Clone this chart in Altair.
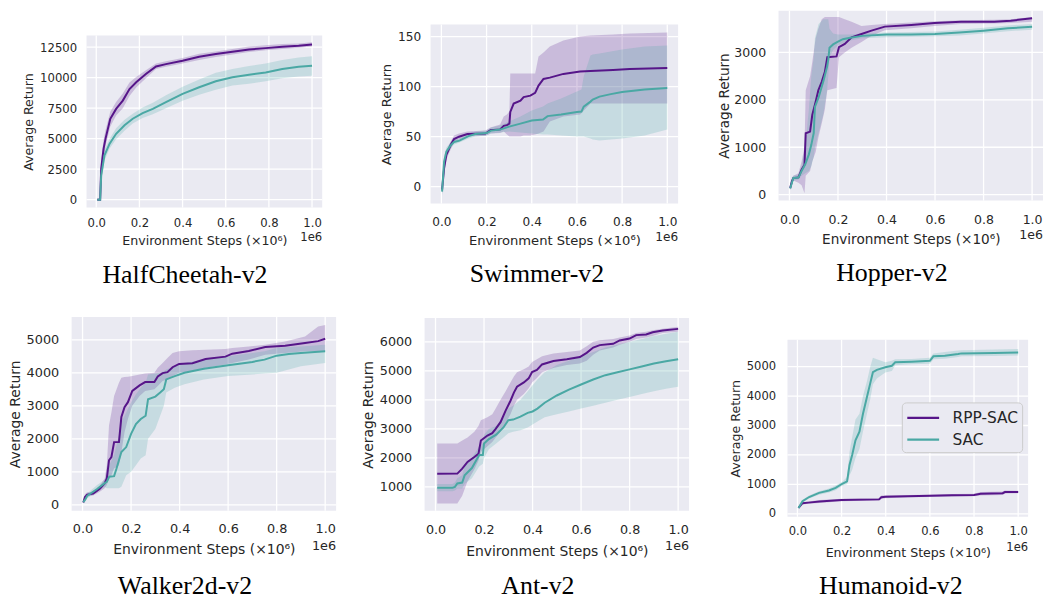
import altair as alt
import pandas as pd

PURPLE = "#561589"
TEAL = "#4AA8A4"
BG = "#EAEAF2"
TXT = "#262626"
SANS = "DejaVu Sans"
SERIF = "Liberation Serif"
SERIES = ["RPP-SAC", "SAC"]
XTICKS = [0.0, 0.2, 0.4, 0.6, 0.8, 1.0]
XTITLE = "Environment Steps (×10⁶)"
YTITLE = "Average Return"

# ---------------- HalfCheetah-v2 ----------------
hc_rpp_x = [0.005, 0.018, 0.023, 0.034, 0.043, 0.065, 0.092, 0.123, 0.154, 0.185, 0.23, 0.277, 0.323, 0.40, 0.477, 0.554, 0.631, 0.708, 0.785, 0.862, 0.938, 1.0]
hc_rpp_y = [0, 0, 2550, 4180, 5000, 6630, 7440, 8120, 9070, 9620, 10300, 10920, 11110, 11380, 11710, 11930, 12120, 12310, 12420, 12530, 12610, 12720]
hc_rpp_lo = [-100, -100, 1800, 3500, 4400, 6000, 6900, 7500, 8500, 9200, 9950, 10700, 10900, 11150, 11450, 11700, 11900, 12100, 12250, 12350, 12450, 12550]
hc_rpp_hi = [100, 100, 3300, 4900, 5700, 7200, 8000, 8700, 9600, 10050, 10600, 11150, 11350, 11600, 11950, 12150, 12350, 12550, 12650, 12750, 12800, 12900]
hc_sac_x = [0.005, 0.018, 0.023, 0.038, 0.062, 0.092, 0.131, 0.169, 0.215, 0.262, 0.323, 0.40, 0.477, 0.554, 0.631, 0.708, 0.785, 0.862, 0.938, 1.0]
hc_sac_y = [0, 0, 2000, 3640, 4590, 5400, 6090, 6630, 7090, 7440, 7990, 8670, 9210, 9700, 10030, 10240, 10430, 10700, 10900, 10980]
hc_sac_lo = [-100, -100, 1500, 3200, 4200, 4950, 5650, 6250, 6700, 7000, 7500, 8100, 8600, 9000, 9350, 9500, 9700, 9950, 10100, 10150]
hc_sac_hi = [100, 100, 2500, 4100, 5000, 5850, 6550, 7050, 7550, 7950, 8550, 9250, 9850, 10400, 10700, 10950, 11150, 11450, 11650, 11750]

# ---------------- Swimmer-v2 ----------------
sw_rpp_x = [0.003, 0.012, 0.022, 0.041, 0.056, 0.078, 0.115, 0.195, 0.217, 0.26, 0.276, 0.29, 0.301, 0.305, 0.32, 0.35, 0.364, 0.394, 0.415, 0.43, 0.452, 0.48, 0.54, 0.614, 0.66, 0.76, 0.834, 1.0]
sw_rpp_y = [-3, 18.5, 31.7, 41.6, 47.6, 49.9, 52.5, 53, 56.5, 57.2, 60.8, 61.5, 63, 74.7, 83, 86, 89.5, 91, 93.8, 101, 107.7, 109, 112.7, 115, 115.5, 116.6, 117.6, 118.6]
sw_rpp_lo = [-8, 12, 27, 37, 44, 47, 50, 50.5, 53, 53.5, 55, 52, 50, 50, 50, 50, 51, 51, 52, 53, 55, 65, 70, 72, 83, 83, 83, 83]
sw_rpp_hi = [2, 25, 36, 45, 51, 53, 55, 56, 59, 62, 70, 72, 75, 113, 113, 113, 113, 113, 113, 130, 134, 140, 146, 150, 151, 152, 153, 154]
sw_sac_x = [0.003, 0.012, 0.022, 0.04, 0.056, 0.08, 0.12, 0.15, 0.2, 0.22, 0.26, 0.3, 0.35, 0.4, 0.45, 0.47, 0.53, 0.6, 0.62, 0.63, 0.66, 0.67, 0.70, 0.75, 0.8, 0.9, 1.0]
sw_sac_y = [-5, 25, 35, 41, 44.6, 46, 50.5, 52.5, 53.5, 56, 57, 60, 63, 66, 67, 70.5, 72, 74.5, 75, 80, 85, 87, 90, 92.5, 94.5, 97, 98.6]
sw_sac_lo = [-10, 20, 31, 38, 42, 44, 48, 50, 51, 53, 54, 55, 54, 53, 52, 52, 51, 50, 50, 50, 48, 47, 46, 47, 48, 51, 57]
sw_sac_hi = [0, 30, 39, 44, 47, 48, 53, 55, 56, 59, 61, 65, 70, 76, 80, 83, 88, 95, 97, 110, 131, 132, 133, 135, 137, 140, 141]

# ---------------- Hopper-v2 ----------------
hp_rpp_x = [0.003, 0.01, 0.016, 0.037, 0.05, 0.062, 0.067, 0.085, 0.094, 0.108, 0.119, 0.133, 0.146, 0.156, 0.194, 0.204, 0.228, 0.256, 0.297, 0.338, 0.393, 0.502, 0.598, 0.707, 0.844, 0.912, 1.0]
hp_rpp_y = [140, 280, 350, 364, 524, 630, 1294, 1330, 1680, 1960, 2200, 2380, 2590, 2900, 2916, 3110, 3180, 3320, 3390, 3460, 3545, 3580, 3620, 3650, 3650, 3670, 3720]
hp_rpp_lo = [100, 200, 300, 250, 200, 30, 400, 500, 700, 900, 1200, 1500, 1800, 2200, 2250, 2900, 3000, 3100, 3220, 3350, 3470, 3510, 3560, 3600, 3610, 3620, 3650]
hp_rpp_hi = [180, 360, 400, 450, 700, 1000, 2200, 2500, 2800, 3300, 3500, 3700, 3750, 3750, 3750, 3750, 3700, 3650, 3560, 3580, 3600, 3630, 3660, 3680, 3690, 3700, 3750]
hp_sac_x = [0.003, 0.01, 0.016, 0.037, 0.05, 0.065, 0.08, 0.09, 0.1, 0.105, 0.12, 0.14, 0.155, 0.16, 0.165, 0.18, 0.2, 0.22, 0.25, 0.3, 0.4, 0.5, 0.6, 0.7, 0.8, 0.9, 1.0]
hp_sac_y = [130, 250, 350, 360, 500, 640, 850, 1050, 1300, 1850, 2050, 2400, 2700, 2850, 3100, 3170, 3230, 3280, 3310, 3350, 3380, 3380, 3390, 3420, 3460, 3510, 3540]
hp_sac_lo = [100, 200, 300, 320, 400, 450, 500, 600, 800, 1000, 1300, 1700, 2200, 2500, 2900, 3050, 3150, 3200, 3250, 3300, 3320, 3330, 3340, 3360, 3400, 3450, 3480]
hp_sac_hi = [160, 300, 400, 420, 600, 1000, 1800, 2500, 2900, 3300, 3600, 3700, 3700, 3700, 3500, 3400, 3380, 3380, 3380, 3400, 3420, 3430, 3440, 3480, 3520, 3570, 3600]

# ---------------- Walker2d-v2 ----------------
wk_rpp_x = [0.003, 0.01, 0.019, 0.044, 0.071, 0.091, 0.1, 0.109, 0.119, 0.13, 0.15, 0.16, 0.173, 0.187, 0.205, 0.235, 0.258, 0.296, 0.31, 0.33, 0.35, 0.371, 0.398, 0.453, 0.507, 0.589, 0.617, 0.685, 0.753, 0.835, 0.917, 0.971, 1.0]
wk_rpp_y = [70, 240, 310, 340, 490, 650, 800, 1350, 1450, 1900, 1900, 2660, 2960, 3110, 3450, 3620, 3720, 3720, 3890, 3990, 4020, 4170, 4270, 4290, 4420, 4490, 4580, 4660, 4780, 4820, 4900, 4960, 5030]
wk_rpp_lo = [50, 150, 250, 280, 400, 500, 600, 800, 900, 1100, 1200, 1600, 2200, 2600, 3000, 3300, 3450, 3500, 3600, 3750, 3800, 3900, 4000, 4050, 4150, 4250, 4300, 4400, 4550, 4600, 4650, 4650, 4650]
wk_rpp_hi = [90, 320, 380, 400, 580, 800, 1200, 2400, 2800, 3300, 3700, 3850, 3870, 3880, 3900, 3950, 3980, 4000, 4150, 4300, 4450, 4600, 4650, 4680, 4700, 4720, 4750, 4800, 4850, 4950, 5100, 5400, 5450]
wk_sac_x = [0.003, 0.01, 0.02, 0.06, 0.09, 0.1, 0.11, 0.13, 0.14, 0.15, 0.16, 0.18, 0.2, 0.22, 0.24, 0.26, 0.27, 0.3, 0.32, 0.335, 0.345, 0.38, 0.42, 0.5, 0.6, 0.7, 0.75, 0.8, 0.85, 0.9, 1.0]
wk_sac_y = [80, 150, 280, 480, 650, 700, 850, 870, 1100, 1350, 1600, 1750, 2150, 2450, 2600, 2700, 3200, 3280, 3400, 3500, 3800, 3900, 4000, 4120, 4230, 4330, 4400, 4520, 4570, 4600, 4650]
wk_sac_lo = [60, 100, 200, 400, 550, 500, 500, 500, 500, 500, 550, 900, 1000, 1200, 1400, 1500, 2000, 2300, 2700, 3000, 3400, 3550, 3650, 3800, 3900, 3950, 3980, 4000, 4100, 4200, 4300]
wk_sac_hi = [100, 200, 350, 600, 750, 900, 1200, 1500, 1800, 2100, 2500, 2800, 3100, 3350, 3550, 3700, 3950, 3980, 4000, 4050, 4100, 4200, 4300, 4400, 4500, 4600, 4650, 4750, 4780, 4800, 4850]

# ---------------- Ant-v2 ----------------
an_rpp_x = [0.007, 0.09, 0.11, 0.132, 0.16, 0.177, 0.187, 0.214, 0.234, 0.248, 0.268, 0.289, 0.309, 0.323, 0.336, 0.364, 0.384, 0.398, 0.418, 0.439, 0.486, 0.541, 0.595, 0.623, 0.65, 0.677, 0.732, 0.759, 0.8, 0.827, 0.868, 0.895, 0.936, 1.0]
an_rpp_y = [1457, 1460, 1630, 1860, 2030, 2140, 2600, 2770, 2850, 3000, 3230, 3630, 3970, 4250, 4450, 4600, 4740, 4960, 5030, 5220, 5340, 5400, 5475, 5620, 5800, 5885, 5930, 6045, 6110, 6230, 6250, 6330, 6390, 6445]
an_rpp_lo = [430, 430, 700, 1200, 1600, 1900, 2200, 2400, 2550, 2700, 2900, 3200, 3500, 3800, 4000, 4200, 4400, 4600, 4750, 4950, 5100, 5200, 5250, 5350, 5550, 5700, 5800, 5900, 6000, 6100, 6150, 6200, 6300, 6350]
an_rpp_hi = [2500, 2500, 2600, 2700, 2900, 3100, 3300, 3400, 3500, 3700, 4000, 4300, 4600, 4800, 4950, 5050, 5150, 5300, 5400, 5500, 5600, 5650, 5700, 5850, 6000, 6050, 6100, 6150, 6220, 6300, 6350, 6400, 6450, 6520]
an_sac_x = [0.007, 0.07, 0.08, 0.09, 0.11, 0.12, 0.15, 0.18, 0.195, 0.2, 0.22, 0.25, 0.28, 0.3, 0.32, 0.35, 0.38, 0.4, 0.42, 0.45, 0.5, 0.55, 0.6, 0.65, 0.7, 0.75, 0.8, 0.85, 0.9, 0.95, 1.0]
an_sac_y = [975, 975, 1000, 1120, 1150, 1400, 1650, 2100, 2100, 2500, 2650, 2800, 3050, 3300, 3320, 3420, 3550, 3600, 3700, 3900, 4150, 4350, 4530, 4700, 4850, 4950, 5050, 5150, 5250, 5330, 5400]
an_sac_lo = [850, 850, 880, 950, 950, 1100, 1300, 1700, 1800, 2000, 2300, 2500, 2700, 2850, 2900, 2950, 3050, 3150, 3250, 3400, 3500, 3600, 3700, 3800, 3900, 4000, 4100, 4200, 4300, 4380, 4450]
an_sac_hi = [1100, 1100, 1150, 1300, 1400, 1700, 2000, 2400, 2500, 2800, 3000, 3100, 3400, 3700, 3800, 4000, 4300, 4500, 4700, 4950, 5200, 5350, 5500, 5650, 5800, 5900, 6000, 6100, 6200, 6280, 6350]

# ---------------- Humanoid-v2 ----------------
hu_rpp_x = [0.005, 0.023, 0.05, 0.1, 0.2, 0.37, 0.38, 0.4, 0.5, 0.6, 0.7, 0.8, 0.83, 0.93, 0.94, 1.0]
hu_rpp_y = [200, 360, 380, 420, 470, 490, 560, 580, 600, 610, 630, 640, 680, 700, 740, 740]
hu_rpp_lo = [170, 320, 340, 370, 430, 450, 500, 530, 560, 570, 590, 600, 620, 640, 690, 700]
hu_rpp_hi = [230, 400, 420, 470, 510, 530, 620, 630, 640, 650, 670, 680, 740, 760, 790, 780]
hu_sac_x = [0.005, 0.023, 0.053, 0.098, 0.143, 0.173, 0.203, 0.225, 0.236, 0.248, 0.263, 0.281, 0.297, 0.315, 0.33, 0.342, 0.36, 0.398, 0.428, 0.443, 0.518, 0.6, 0.616, 0.668, 0.728, 0.743, 0.893, 1.0]
hu_sac_y = [200, 430, 570, 710, 790, 880, 1020, 1100, 1660, 2000, 2500, 2790, 3400, 3970, 4440, 4810, 4890, 4980, 5030, 5150, 5170, 5200, 5350, 5370, 5430, 5450, 5460, 5480]
hu_sac_lo = [180, 380, 520, 650, 720, 800, 950, 1000, 1300, 1500, 1900, 2200, 2800, 3400, 3900, 4400, 4600, 4800, 4850, 5050, 5080, 5100, 5250, 5270, 5330, 5350, 5360, 5380]
hu_sac_hi = [220, 480, 620, 770, 860, 960, 1090, 1250, 2100, 2600, 3200, 3400, 4000, 4500, 5000, 5300, 5250, 5150, 5200, 5250, 5260, 5300, 5450, 5500, 5550, 5560, 5580, 5600]

# page-pixel layout: column / row cells, plot rectangles
COLS = [(8, 351), (351, 702), (702, 1051)]
ROWS = [(8, 300), (300, 600)]

PANELS = [
    dict(name="HalfCheetah-v2", col=0, row=0, L=87, T=33, W=237, H=173,
         xdom=[-0.045, 1.047], ydom=[-650, 13450], yticks=[0, 2500, 5000, 7500, 10000, 12500],
         tick=11.7, ttl=12.7, ylp=10, xlp=10, ytp=4, xtp=5, e6=240, nx=186, ny=282,
         rpp=(hc_rpp_x, hc_rpp_y, hc_rpp_lo, hc_rpp_hi), sac=(hc_sac_x, hc_sac_y, hc_sac_lo, hc_sac_hi)),
    dict(name="Swimmer-v2", col=1, row=0, L=433, T=22, W=249, H=180,
         xdom=[-0.048, 1.048], ydom=[-17, 162], yticks=[0, 50, 100, 150],
         tick=12.2, ttl=13.2, ylp=10, xlp=12, ytp=4, xtp=7, e6=240, nx=540, ny=281,
         rpp=(sw_rpp_x, sw_rpp_y, sw_rpp_lo, sw_rpp_hi), sac=(sw_sac_x, sw_sac_y, sw_sac_lo, sw_sac_hi)),
    dict(name="Hopper-v2", col=2, row=0, L=783, T=8, W=266, H=191,
         xdom=[-0.045, 1.045], ydom=[-126, 3881], yticks=[0, 1000, 2000, 3000],
         tick=12.6, ttl=13.7, ylp=13, xlp=13, ytp=2, xtp=7, e6=238, nx=897, ny=280,
         rpp=(hp_rpp_x, hp_rpp_y, hp_rpp_lo, hp_rpp_hi), sac=(hp_sac_x, hp_sac_y, hp_sac_lo, hp_sac_hi)),
    dict(name="Walker2d-v2", col=0, row=1, L=72, T=316, W=266, H=195,
         xdom=[-0.045, 1.045], ydom=[-181, 5693], yticks=[0, 1000, 2000, 3000, 4000, 5000],
         tick=12.9, ttl=14, ylp=13, xlp=12, ytp=4, xtp=7, e6=550, nx=186, ny=595,
         rpp=(wk_rpp_x, wk_rpp_y, wk_rpp_lo, wk_rpp_hi), sac=(wk_sac_x, wk_sac_y, wk_sac_lo, wk_sac_hi)),
    dict(name="Ant-v2", col=1, row=1, L=427, T=317, W=266, H=194,
         xdom=[-0.045, 1.045], ydom=[178, 6822], yticks=[1000, 2000, 3000, 4000, 5000, 6000],
         tick=12.8, ttl=14, ylp=13, xlp=13, ytp=4, xtp=8, e6=550, nx=541, ny=595,
         rpp=(an_rpp_x, an_rpp_y, an_rpp_lo, an_rpp_hi), sac=(an_sac_x, an_sac_y, an_sac_lo, an_sac_hi)),
    dict(name="Humanoid-v2", col=2, row=1, L=792, T=339, W=242, H=178,
         xdom=[-0.045, 1.045], ydom=[-101, 5912], yticks=[0, 1000, 2000, 3000, 4000, 5000],
         tick=11.6, ttl=12.7, ylp=12, xlp=9, ytp=4, xtp=9, e6=551, nx=896, ny=595,
         rpp=(hu_rpp_x, hu_rpp_y, hu_rpp_lo, hu_rpp_hi), sac=(hu_sac_x, hu_sac_y, hu_sac_lo, hu_sac_hi),
         legend=(907, 402)),
]

one = pd.DataFrame({"k": [0]})


def make_panel(p):
    cx0, cx1 = COLS[p["col"]]
    cy0, cy1 = ROWS[p["row"]]
    cw, ch = cx1 - cx0, cy1 - cy0
    pl, pt, W, H = p["L"] - cx0, p["T"] - cy0, p["W"], p["H"]

    rows = []
    for s, (xs, ms, los, his) in zip(SERIES, [p["rpp"], p["sac"]]):
        for xv, mv, lv, hv in zip(xs, ms, los, his):
            rows.append({"series": s, "x": xv, "mean": mv, "lo": lv, "hi": hv})
    df = pd.DataFrame(rows)

    xscale = alt.Scale(domain=p["xdom"], range=[pl, pl + W], nice=False, zero=False)
    yscale = alt.Scale(domain=p["ydom"], range=[pt + H, pt], nice=False, zero=False)
    xaxis = alt.Axis(values=XTICKS, format=".1f", title=XTITLE, labelFontSize=p["tick"],
                     titleFontSize=p["ttl"], labelPadding=p["xlp"], titlePadding=p["xtp"],
                     labelFlush=False, labelOverlap=False, grid=False,
                     offset=-(ch - pt - H))
    yaxis = alt.Axis(values=p["yticks"], format="d", title=YTITLE, labelFontSize=p["tick"],
                     titleFontSize=p["ttl"], labelPadding=p["ylp"], titlePadding=p["ytp"],
                     labelOverlap=False, grid=False, offset=-pl)

    def X(f):
        return alt.X(f, scale=xscale, axis=xaxis)

    def Y(f):
        return alt.Y(f, scale=yscale, axis=yaxis)

    layers = []
    # plot background (domain extent)
    bgdf = pd.DataFrame({"x0": [p["xdom"][0]], "x1": [p["xdom"][1]],
                         "y0": [p["ydom"][0]], "y1": [p["ydom"][1]]})
    layers.append(
        alt.Chart(bgdf).mark_rect(color=BG)
        .encode(x=X("x0:Q"), x2="x1:Q", y=Y("y0:Q"), y2="y1:Q")
    )
    # grid lines
    gx = pd.DataFrame({"v": XTICKS, "a": p["ydom"][0], "b": p["ydom"][1]})
    gy = pd.DataFrame({"v": p["yticks"], "a": p["xdom"][0], "b": p["xdom"][1]})
    layers.append(
        alt.Chart(gx).mark_rule(color="white", strokeWidth=1.3)
        .encode(x=X("v:Q"), y=Y("a:Q"), y2="b:Q")
    )
    layers.append(
        alt.Chart(gy).mark_rule(color="white", strokeWidth=1.3)
        .encode(y=Y("v:Q"), x=X("a:Q"), x2="b:Q")
    )
    base = alt.Chart(df)
    for s, c in zip(SERIES, [PURPLE, TEAL]):
        layers.append(
            base.transform_filter(alt.datum.series == s)
            .mark_area(color=c, opacity=0.22)
            .encode(x=X("x:Q"), y=Y("lo:Q"), y2="hi:Q")
        )
    if p.get("legend"):
        lx, ly = p["legend"]
        leg = alt.Legend(orient="none", legendX=lx - cx0, legendY=ly - cy0, title=None,
                         symbolType="M-1,0H2.2", symbolSize=400, symbolStrokeWidth=2.2,
                         labelFontSize=15.5, labelFont=SANS, labelColor=TXT,
                         fillColor=BG, strokeColor="#CCCCCC", cornerRadius=4, padding=4,
                         labelOffset=24, rowPadding=2)
    else:
        leg = None
    layers.append(
        base.mark_line(strokeWidth=2)
        .encode(x=X("x:Q"), y=Y("mean:Q"),
                color=alt.Color("series:N", scale=alt.Scale(domain=SERIES, range=[PURPLE, TEAL]),
                                legend=leg))
    )
    layers.append(
        alt.Chart(one).mark_text(text="1e6", align="right", baseline="alphabetic",
                                 fontSize=p["tick"], font=SANS, color=TXT)
        .encode(x=alt.value(pl + W), y=alt.value(p["e6"] - cy0))
    )
    layers.append(
        alt.Chart(one).mark_text(text=p["name"], align="center", baseline="alphabetic",
                                 fontSize=26, font=SERIF, color="black")
        .encode(x=alt.value(p["nx"] - cx0), y=alt.value(p["ny"] - cy0))
    )
    return alt.layer(*layers).properties(width=cw, height=ch)


panels = [make_panel(p) for p in PANELS]

chart = (
    alt.concat(*panels, columns=3, spacing=0)
    .resolve_scale(color="independent")
    .resolve_legend(color="independent")
    .properties(padding={"left": 0, "top": 0, "right": 0, "bottom": 0})
    .configure_view(strokeWidth=0)
    .configure_axis(domain=False, ticks=False, grid=False,
                    labelColor=TXT, titleColor=TXT, labelFont=SANS, titleFont=SANS,
                    titleFontWeight="normal")
)

chart.save("out.html", embed_options={"renderer": "svg", "actions": False})
